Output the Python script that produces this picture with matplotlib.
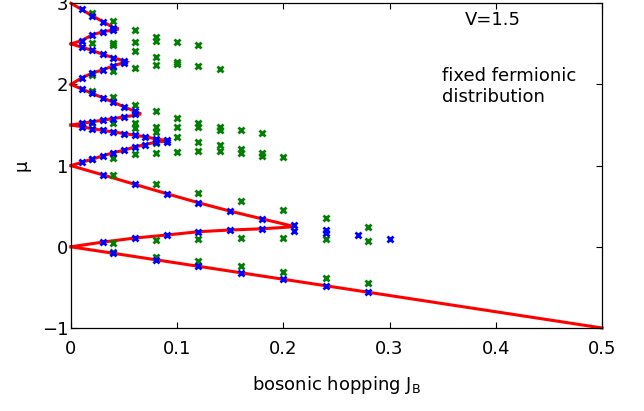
import matplotlib
matplotlib.use('Agg')
import matplotlib.pyplot as plt

# ---- red mean-field lobe boundaries ----
lobe0_x = [0, 0.03, 0.06, 0.09, 0.12, 0.15, 0.18, 0.211, 0.18, 0.15, 0.12, 0.09, 0.06, 0.03, 0]
lobe0_y = [0, 0.058, 0.108, 0.145, 0.186, 0.207, 0.222, 0.248, 0.344, 0.439, 0.543, 0.655, 0.77, 0.886, 1]
lobe1_x = [0, 0.01, 0.02, 0.03, 0.04, 0.05, 0.06, 0.07, 0.08, 0.092, 0.08, 0.07, 0.06, 0.05, 0.04, 0.03, 0.02, 0.01, 0]
lobe1_y = [1, 1.04, 1.08, 1.12, 1.16, 1.19, 1.23, 1.26, 1.29, 1.305, 1.33, 1.355, 1.375, 1.395, 1.415, 1.435, 1.455, 1.48, 1.5]
lobe2_x = [0, 0.01, 0.02, 0.03, 0.04, 0.05, 0.06, 0.066, 0.06, 0.05, 0.04, 0.03, 0.02, 0.01, 0]
lobe2_y = [1.5, 1.52, 1.54, 1.56, 1.58, 1.60, 1.62, 1.637, 1.67, 1.725, 1.78, 1.835, 1.89, 1.945, 2]
lobe3_x = [0, 0.01, 0.02, 0.03, 0.04, 0.05, 0.052, 0.05, 0.04, 0.03, 0.02, 0.01, 0]
lobe3_y = [2, 2.08, 2.14, 2.18, 2.23, 2.27, 2.28, 2.29, 2.33, 2.37, 2.42, 2.46, 2.5]
lobe4_x = [0, 0.01, 0.02, 0.03, 0.04, 0.045, 0.04, 0.03, 0.02, 0.01, 0]
lobe4_y = [2.5, 2.54, 2.61, 2.65, 2.67, 2.685, 2.70, 2.775, 2.845, 2.925, 3]
bottom_x = [0, 0.5]
bottom_y = [0, -1]

# ---- blue points ----
blue_x = [0.01, 0.02, 0.03, 0.04,
          0.01, 0.02, 0.03, 0.04,
          0.01, 0.02, 0.03, 0.04, 0.05,
          0.01, 0.02, 0.03, 0.04, 0.05,
          0.01, 0.02, 0.03, 0.04, 0.05, 0.06,
          0.01, 0.02, 0.03, 0.04, 0.05, 0.06,
          0.01, 0.02, 0.03, 0.04, 0.05, 0.06, 0.07, 0.08, 0.09,
          0.01, 0.02, 0.03, 0.04, 0.05, 0.06, 0.07, 0.08, 0.09,
          0.03, 0.06, 0.09, 0.12, 0.15, 0.18, 0.21,
          0.03, 0.06, 0.09, 0.12, 0.15, 0.18, 0.21,
          0.24, 0.24, 0.27, 0.30,
          0.04, 0.08, 0.12, 0.16, 0.20, 0.24, 0.28]
blue_y = [2.925, 2.845, 2.775, 2.70,
          2.54, 2.61, 2.65, 2.67,
          2.46, 2.42, 2.37, 2.33, 2.29,
          2.08, 2.14, 2.18, 2.23, 2.27,
          1.945, 1.89, 1.835, 1.78, 1.725, 1.67,
          1.52, 1.54, 1.56, 1.58, 1.60, 1.63,
          1.48, 1.455, 1.435, 1.415, 1.395, 1.375, 1.355, 1.33, 1.31,
          1.04, 1.08, 1.12, 1.16, 1.19, 1.23, 1.26, 1.29, 1.295,
          0.886, 0.77, 0.655, 0.543, 0.439, 0.344, 0.27,
          0.058, 0.108, 0.145, 0.186, 0.207, 0.22, 0.20,
          0.21, 0.17, 0.14, 0.096,
          -0.08, -0.16, -0.24, -0.32, -0.40, -0.48, -0.56]

# ---- green points ----
green_x = [0.02] * 6 + [0.04] * 10 + [0.06] * 8 + [0.08] * 12 + [0.10] * 7 + \
          [0.12] * 9 + [0.14] * 5 + [0.16] * 6 + [0.18] * 3 + [0.20] * 4 + [0.24] * 3 + [0.28] * 3
green_y = [2.88, 2.51, 2.12, 1.92, 1.53, 1.08,
           2.78, 2.51, 2.48, 2.17, 1.85, 1.53, 1.10, 0.89, 0.05, -0.06,
           2.67, 2.52, 2.41, 2.20, 1.75, 1.53, 1.46, 1.14,
           2.59, 2.53, 2.34, 2.24, 1.67, 1.48, 1.41, 1.28, 1.15, 0.77, 0.08, -0.12,
           2.52, 2.28, 2.25, 1.59, 1.48, 1.35, 1.17,
           2.48, 2.23, 1.53, 1.48, 1.29, 1.18, 0.66, 0.10, -0.18,
           2.19, 1.48, 1.44, 1.25, 1.18,
           1.44, 1.20, 1.15, 0.56, 0.11, -0.24,
           1.40, 1.16, 1.12,
           1.11, 0.45, 0.11, -0.31,
           0.35, 0.10, -0.38,
           0.25, 0.075, -0.44]

x_ticks = [0, 0.1, 0.2, 0.3, 0.4, 0.5]
x_ticklabels = ['0', '0.1', '0.2', '0.3', '0.4', '0.5']
y_ticks = [-1, 0, 1, 2, 3]

plt.rcParams['font.family'] = ['DejaVu Sans']
fs = 13

fig = plt.figure(figsize=(6.44, 4.11), dpi=100)
ax = fig.add_axes([0.1102, 0.202, 0.8246, 0.790])

for lx, ly in [(lobe0_x, lobe0_y), (lobe1_x, lobe1_y), (lobe2_x, lobe2_y),
               (lobe3_x, lobe3_y), (lobe4_x, lobe4_y), (bottom_x, bottom_y)]:
    ax.plot(lx, ly, color='red', lw=2.2, solid_joinstyle='miter', zorder=2, clip_on=False)

ax.plot(green_x, green_y, ls='none', marker='x', ms=5, mew=2.0,
        color=(0, 0.5, 0), zorder=3, clip_on=False)
ax.plot(blue_x, blue_y, ls='none', marker='x', ms=5, mew=2.0,
        color=(0, 0, 1), zorder=4, clip_on=False)

ax.set_xlim(0, 0.5)
ax.set_ylim(-1, 3)
ax.set_xticks(x_ticks)
ax.set_xticklabels(x_ticklabels)
ax.set_yticks(y_ticks)
ax.tick_params(direction='in', length=4, width=0.8, top=True, right=True,
               labelsize=fs)
ax.tick_params(axis='x', pad=8.5)
ax.tick_params(axis='y', pad=2)
for s in ax.spines.values():
    s.set_linewidth(0.9)

ax.set_xlabel('bosonic hopping J$_\\mathregular{B}$', fontsize=fs, labelpad=12)
ax.set_ylabel('μ', fontsize=fs, labelpad=8)

ax.text(0.371, 2.80, 'V=1.5', fontsize=fs, ha='left', va='center')
ax.text(0.349, 1.975, 'fixed fermionic\ndistribution', fontsize=fs, ha='left',
        va='center', linespacing=1.15)

fig.savefig('out.png', dpi=100)
